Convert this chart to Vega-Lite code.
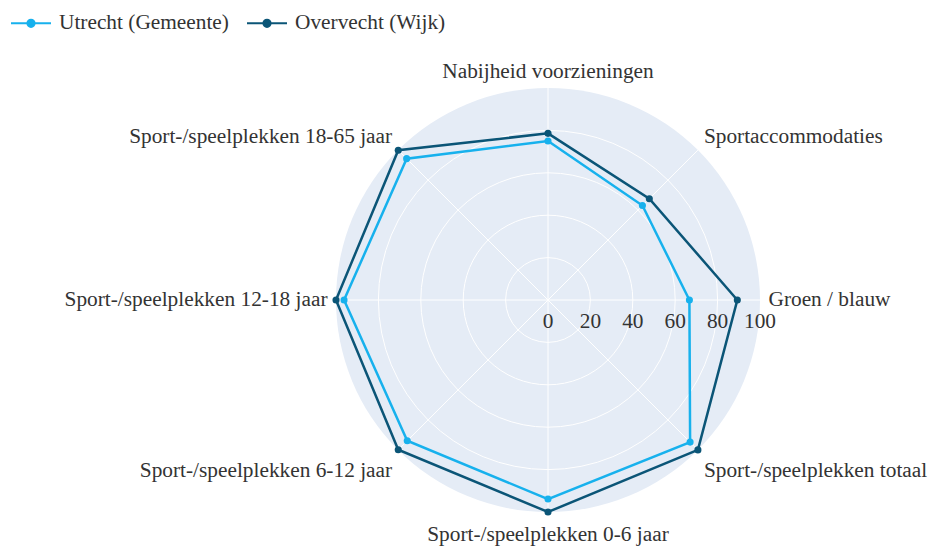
{
  "$schema": "https://vega.github.io/schema/vega-lite/v6.json",
  "width": 424,
  "height": 424,
  "autosize": {"type": "none"},
  "padding": {"left": 336, "top": 88, "right": 171, "bottom": 36},
  "background": "white",
  "config": {
    "view": {"stroke": null},
    "font": "Liberation Serif",
    "text": {"font": "Liberation Serif", "fontSize": 21.33, "color": "#333333"}
  },
  "datasets": {
    "scores": [
      {"categorie": "Nabijheid voorzieningen", "Utrecht (Gemeente)": 75, "Overvecht (Wijk)": 78.6},
      {"categorie": "Sportaccommodaties", "Utrecht (Gemeente)": 63, "Overvecht (Wijk)": 67.6},
      {"categorie": "Groen / blauw", "Utrecht (Gemeente)": 66.7, "Overvecht (Wijk)": 89.3},
      {"categorie": "Sport-/speelplekken totaal", "Utrecht (Gemeente)": 94.8, "Overvecht (Wijk)": 100},
      {"categorie": "Sport-/speelplekken 0-6 jaar", "Utrecht (Gemeente)": 93.9, "Overvecht (Wijk)": 100},
      {"categorie": "Sport-/speelplekken 6-12 jaar", "Utrecht (Gemeente)": 93.9, "Overvecht (Wijk)": 99.9},
      {"categorie": "Sport-/speelplekken 12-18 jaar", "Utrecht (Gemeente)": 96.2, "Overvecht (Wijk)": 100},
      {"categorie": "Sport-/speelplekken 18-65 jaar", "Utrecht (Gemeente)": 94.3, "Overvecht (Wijk)": 99.9}
    ],
    "rings": [{"r": 0}, {"r": 20}, {"r": 40}, {"r": 60}, {"r": 80}, {"r": 100}]
  },
  "layer": [
    {
      "data": {"name": "rings"},
      "transform": [{"filter": "datum.r == 100"}, {"calculate": "0", "as": "c"}],
      "mark": {"type": "point", "filled": true, "color": "#e5ecf6", "opacity": 1, "size": 179776},
      "encoding": {
        "x": {"field": "c", "type": "quantitative", "scale": {"domain": [-100, 100], "nice": false, "zero": false}, "axis": null},
        "y": {"field": "c", "type": "quantitative", "scale": {"domain": [-100, 100], "nice": false, "zero": false}, "axis": null}
      }
    },
    {
      "data": {"name": "rings"},
      "transform": [{"filter": "datum.r > 0 && datum.r < 100"}, {"calculate": "0", "as": "c"}],
      "mark": {"type": "point", "filled": false, "stroke": "white", "strokeWidth": 1, "opacity": 1},
      "encoding": {
        "x": {"field": "c", "type": "quantitative"},
        "y": {"field": "c", "type": "quantitative"},
        "size": {"field": "r", "type": "quantitative", "scale": {"type": "pow", "exponent": 2, "domain": [0, 100], "range": [0, 179776]}, "legend": null}
      }
    },
    {
      "data": {"name": "scores"},
      "transform": [
        {"window": [{"op": "row_number", "as": "i"}]},
        {"calculate": "PI/2 - (datum.i - 1) * PI / 4", "as": "ang"},
        {"calculate": "0", "as": "c"},
        {"calculate": "100 * cos(datum.ang)", "as": "ex"},
        {"calculate": "100 * sin(datum.ang)", "as": "ey"}
      ],
      "mark": {"type": "rule", "color": "white", "strokeWidth": 1},
      "encoding": {
        "x": {"field": "c", "type": "quantitative"},
        "y": {"field": "c", "type": "quantitative"},
        "x2": {"field": "ex"},
        "y2": {"field": "ey"}
      }
    },
    {
      "data": {"name": "scores"},
      "transform": [
        {"window": [{"op": "row_number", "as": "i"}]},
        {"calculate": "PI/2 - (datum.i - 1) * PI / 4", "as": "ang"},
        {"fold": ["Utrecht (Gemeente)", "Overvecht (Wijk)"], "as": ["gebied", "waarde"]},
        {"calculate": "datum.waarde * cos(datum.ang)", "as": "px"},
        {"calculate": "datum.waarde * sin(datum.ang)", "as": "py"}
      ],
      "layer": [
        {
          "mark": {"type": "line", "strokeWidth": 2.5, "interpolate": "linear-closed"},
          "encoding": {
            "x": {"field": "px", "type": "quantitative"},
            "y": {"field": "py", "type": "quantitative"},
            "order": {"field": "i", "type": "quantitative"},
            "color": {
              "field": "gebied", "type": "nominal",
              "scale": {"domain": ["Utrecht (Gemeente)", "Overvecht (Wijk)"], "range": ["#17b1ed", "#0b5577"]},
              "legend": {
                "orient": "none", "legendX": -326, "legendY": -86, "direction": "horizontal",
                "title": null, "padding": 0,
                "symbolType": "M-1,0L1,0M-0.18,0A0.18,0.18,0,1,1,0.18,0A0.18,0.18,0,1,1,-0.18,0Z",
                "symbolSize": 1600, "symbolStrokeWidth": 2, "symbolOpacity": 1,
                "labelFont": "Liberation Serif", "labelFontSize": 21.33, "labelColor": "#333333",
                "labelLimit": 0,
                "labelOffset": 7, "columnPadding": 14
              }
            }
          }
        },
        {
          "mark": {"type": "point", "filled": true, "opacity": 1, "size": 50},
          "encoding": {
            "x": {"field": "px", "type": "quantitative"},
            "y": {"field": "py", "type": "quantitative"},
            "color": {"field": "gebied", "type": "nominal"}
          }
        }
      ]
    },
    {
      "data": {"name": "rings"},
      "transform": [{"calculate": "0", "as": "c"}],
      "mark": {"type": "text", "baseline": "middle", "align": "center", "dy": 22},
      "encoding": {
        "x": {"field": "r", "type": "quantitative"},
        "y": {"field": "c", "type": "quantitative"},
        "text": {"field": "r", "type": "quantitative"}
      }
    },
    {
      "data": {"name": "scores"},
      "transform": [
        {"window": [{"op": "row_number", "as": "i"}]},
        {"calculate": "PI/2 - (datum.i - 1) * PI / 4", "as": "ang"},
        {"calculate": "104 * cos(datum.ang)", "as": "lx"},
        {"calculate": "104 * sin(datum.ang) + (sin(datum.ang) > 0.1 ? 3.5 : (sin(datum.ang) < -0.1 ? -7 : 0))", "as": "ly"}
      ],
      "layer": [
        {
          "transform": [{"filter": "cos(datum.ang) > 0.1"}],
          "mark": {"type": "text", "align": "left", "baseline": "middle"},
          "encoding": {"x": {"field": "lx", "type": "quantitative"}, "y": {"field": "ly", "type": "quantitative"}, "text": {"field": "categorie", "type": "nominal"}}
        },
        {
          "transform": [{"filter": "cos(datum.ang) < -0.1"}],
          "mark": {"type": "text", "align": "right", "baseline": "middle"},
          "encoding": {"x": {"field": "lx", "type": "quantitative"}, "y": {"field": "ly", "type": "quantitative"}, "text": {"field": "categorie", "type": "nominal"}}
        },
        {
          "transform": [{"filter": "abs(cos(datum.ang)) <= 0.1"}],
          "mark": {"type": "text", "align": "center", "baseline": "middle"},
          "encoding": {"x": {"field": "lx", "type": "quantitative"}, "y": {"field": "ly", "type": "quantitative"}, "text": {"field": "categorie", "type": "nominal"}}
        }
      ]
    }
  ]
}
